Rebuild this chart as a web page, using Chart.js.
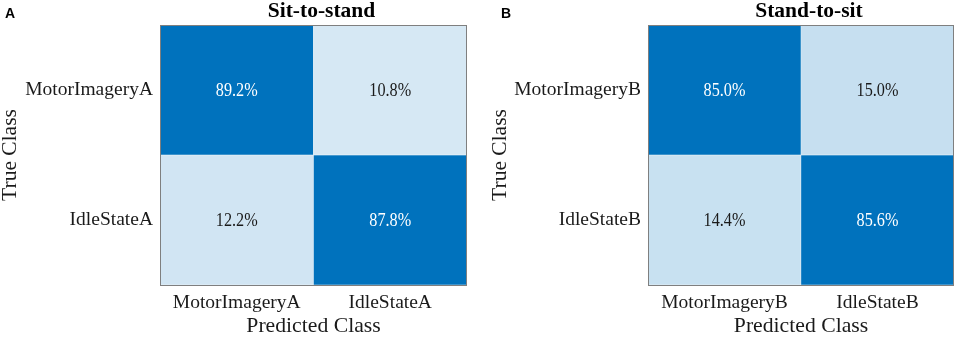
<!DOCTYPE html>
<html lang="en">
<head>
    <meta charset="UTF-8">
    <title>Confusion matrices</title>
    <script src="https://cdn.jsdelivr.net/npm/chart.js"></script>
    <style>
        body { margin: 0; background: #fff; }
        #wrap { position: relative; width: 957px; height: 337px; }
        #chartA { position: absolute; left: 0; top: 0; }
        #chartB { position: absolute; left: 478px; top: 0; }
    </style>
</head>
<body>
<div id="wrap">
    <canvas id="chartA" width="478" height="337"></canvas>
    <canvas id="chartB" width="479" height="337"></canvas>
</div>
<script>
    // classes (rows = true class, columns = predicted class)
    const classesA = ['MotorImageryA', 'IdleStateA'];
    const classesB = ['MotorImageryB', 'IdleStateB'];

    // percentages, row by row
    const valuesA = [[89.2, 10.8], [12.2, 87.8]];
    const valuesB = [[85.0, 15.0], [14.4, 85.6]];

    const titleA = 'Sit-to-stand';
    const titleB = 'Stand-to-sit';

    const serif = '"Liberation Serif", "Times New Roman", serif';
    const textColor = '#1a1a1a';

    // white -> MATLAB blue
    function cellColour(v) {
        const f = Math.min(1, v / 67);
        const r = Math.round(255 - f * (255 - 0));
        const g = Math.round(255 - f * (255 - 114));
        const b = Math.round(255 - f * (255 - 189));
        return 'rgb(' + r + ',' + g + ',' + b + ')';
    }

    // draws the percentages, frame, title and panel letter
    const decorations = {
        id: 'decorations',
        afterDatasetsDraw(chart, args, opts) {
            const ctx = chart.ctx;
            const area = chart.chartArea;
            ctx.save();
            ctx.font = '18px ' + serif;
            ctx.textAlign = 'center';
            ctx.textBaseline = 'middle';
            chart.data.datasets.forEach((ds, i) => {
                chart.getDatasetMeta(i).data.forEach((bar, j) => {
                    const v = ds.values[j];
                    const p = bar.getCenterPoint();
                    ctx.fillStyle = v > 50 ? '#ffffff' : textColor;
                    // the original font is a bit narrower than Times
                    ctx.save();
                    ctx.translate(p.x, p.y + 1);
                    ctx.scale(0.9, 1);
                    ctx.fillText(v.toFixed(1) + '%', 0, 0);
                    ctx.restore();
                });
            });
            ctx.strokeStyle = '#7f7f7f';
            ctx.lineWidth = 1;
            ctx.strokeRect(area.left + 0.5, area.top + 0.5, area.right - area.left - 1, area.bottom - area.top);

            ctx.fillStyle = '#000';
            ctx.font = 'bold 21.5px ' + serif;
            ctx.textBaseline = 'alphabetic';
            ctx.fillText(opts.title, (area.left + area.right) / 2 + 8, 17);

            ctx.font = 'bold 14px "Liberation Sans", Arial, sans-serif';
            ctx.textAlign = 'left';
            ctx.fillText(opts.letter, opts.letterX, 18);
            ctx.restore();
        }
    };

    function makeMatrix(id, classes, values, title, letter, opt) {
        const n = classes.length;
        const datasets = values.map((row, i) => ({
            label: classes[i],
            values: row,
            data: row.map(() => [n - 1 - i, n - i]),
            backgroundColor: row.map(cellColour),
            borderColor: 'rgba(240,245,250,0.9)',
            borderWidth: 0.5,
            borderSkipped: false
        }));

        return new Chart(document.getElementById(id), {
            type: 'bar',
            data: { labels: classes, datasets: datasets },
            options: {
                responsive: false,
                animation: false,
                grouped: false,
                categoryPercentage: 1,
                barPercentage: 1,
                layout: { padding: { top: 25, right: opt.padRight, left: 0, bottom: 0 } },
                plugins: {
                    legend: { display: false },
                    tooltip: { enabled: false },
                    decorations: { title: title, letter: letter, letterX: opt.letterX }
                },
                scales: {
                    x: {
                        grid: { display: false, drawTicks: false },
                        border: { display: false },
                        ticks: { color: textColor, font: { family: serif, size: 19.5 }, padding: 6 },
                        title: {
                            display: true, text: 'Predicted Class', color: textColor,
                            font: { family: serif, size: 21.7, lineHeight: 1 },
                            padding: { top: 0, bottom: 0 }
                        },
                        afterFit(scale) { scale.height = 52; }
                    },
                    y: {
                        min: 0,
                        max: n,
                        grid: { display: false, drawTicks: false },
                        border: { display: false },
                        afterBuildTicks(scale) {
                            scale.ticks = classes.map((c, i) => ({ value: n - 0.5 - i }));
                        },
                        ticks: {
                            color: textColor,
                            font: { family: serif, size: 19.5 },
                            padding: 7,
                            callback: (value) => classes[n - 1 - Math.floor(value)]
                        },
                        title: {
                            display: true, text: 'True Class', color: textColor,
                            font: { family: serif, size: 21.5, lineHeight: 1 },
                            padding: { top: opt.yTitlePad, bottom: 0 }
                        },
                        afterFit(scale) { scale.width = opt.yWidth; }
                    }
                }
            },
            plugins: [decorations]
        });
    }

    makeMatrix('chartA', classesA, valuesA, titleA, 'A', { yWidth: 160, padRight: 11, letterX: 5, yTitlePad: 0 });
    makeMatrix('chartB', classesB, valuesB, titleB, 'B', { yWidth: 170, padRight: 3, letterX: 23, yTitlePad: 11.5 });
</script>
</body>
</html>
